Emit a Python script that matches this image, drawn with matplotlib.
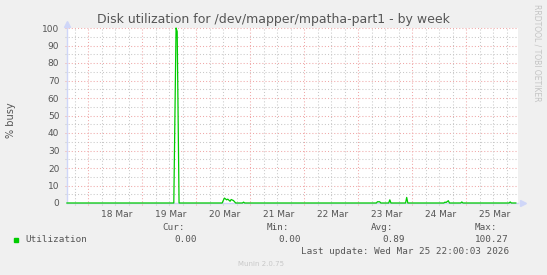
import matplotlib
matplotlib.use('Agg')
import matplotlib.pyplot as plt
import pandas as pd

# utilization samples (% busy), zero between the listed points
times = ['2026-03-17 14:30',
         '2026-03-19 14:00', '2026-03-19 15:00', '2026-03-19 15:30', '2026-03-19 16:20',
         '2026-03-20 11:30', '2026-03-20 12:00', '2026-03-20 12:30', '2026-03-20 13:30',
         '2026-03-20 14:00', '2026-03-20 15:00', '2026-03-20 15:30', '2026-03-20 16:30',
         '2026-03-20 17:30', '2026-03-20 20:30', '2026-03-20 21:00', '2026-03-20 21:30',
         '2026-03-23 08:00', '2026-03-23 08:30', '2026-03-23 09:30', '2026-03-23 10:00',
         '2026-03-23 13:30', '2026-03-23 14:00', '2026-03-23 14:30',
         '2026-03-23 21:00', '2026-03-23 21:30', '2026-03-23 22:00',
         '2026-03-24 14:00', '2026-03-24 14:30', '2026-03-24 15:00', '2026-03-24 16:00',
         '2026-03-24 16:30', '2026-03-24 21:30', '2026-03-24 22:00', '2026-03-24 22:30',
         '2026-03-25 19:00', '2026-03-25 19:30', '2026-03-25 20:00',
         '2026-03-25 22:00']
values = [0,
          0, 100, 98, 0,
          0, 1.5, 2.8, 1.8,
          2.2, 1.0, 2.0, 1.4,
          0, 0, 0.5, 0,
          0, 0.7, 0.7, 0,
          0, 1.8, 0,
          0, 3.2, 0,
          0, 0.5, 0.3, 1.3,
          0, 0, 0.6, 0,
          0, 0.6, 0,
          0]

day_labels = ['18 Mar', '19 Mar', '20 Mar', '21 Mar', '22 Mar', '23 Mar', '24 Mar', '25 Mar']
y_ticks = [0, 10, 20, 30, 40, 50, 60, 70, 80, 90, 100]

stat_heads = ['Cur:', 'Min:', 'Avg:', 'Max:']
stat_vals = ['0.00', '0.00', '0.89', '100.27']

BACK = '#F0F0F0'
FONT = '#555555'
AXIS = '#CFD6F8'
MGRID = '#F0A8A8'
GRID = '#C8C8C8'

t = pd.to_datetime(times)
x0 = pd.Timestamp('2026-03-17 14:32')
x1 = pd.Timestamp('2026-03-25 22:58')

fig = plt.figure(figsize=(5.47, 2.75), dpi=100, facecolor=BACK)
ax = fig.add_axes([67 / 547, 1 - 203 / 275, 451 / 547, 175 / 275])
ax.set_facecolor('white')
ax.set_xlim(x0, x1)
ax.set_ylim(0, 100)

# grid
for v in range(5, 100, 10):
    ax.axhline(v, xmin=-0.005, color=GRID, lw=0.75, ls=(0, (1, 2)), clip_on=False, zorder=1)
for v in range(10, 101, 10):
    ax.axhline(v, xmin=-0.005, color=MGRID, lw=0.75, ls=(0, (1, 2)), clip_on=False, zorder=1)
hours = pd.date_range('2026-03-17 18:00', '2026-03-25 18:00', freq='6h')
for h in hours:
    if h.hour == 0:
        ax.axvline(h, ymin=-0.012, color=MGRID, lw=0.75, ls=(0, (1, 2)), clip_on=False, zorder=1)
    else:
        ax.axvline(h, ymin=-0.012, color=GRID, lw=0.75, ls=(0, (1, 2)), clip_on=False, zorder=1)

for s in ['top', 'right']:
    ax.spines[s].set_visible(False)
for s in ['left', 'bottom']:
    ax.spines[s].set_color(AXIS)
    ax.spines[s].set_linewidth(1.0)
ax.plot([0], [1.025], marker='^', ms=5, color=AXIS, transform=ax.transAxes, clip_on=False)
ax.plot([1.01], [0], marker='>', ms=5, color=AXIS, transform=ax.transAxes, clip_on=False)

ax.plot(t, values, color='#00CC00', lw=0.9, zorder=3, clip_on=False)

noons = pd.date_range('2026-03-18 12:40', periods=len(day_labels), freq='D')
ax.set_xticks(noons)
ax.set_xticklabels(day_labels)
ax.set_yticks(y_ticks)
ax.tick_params(axis='both', length=0, labelsize=6.5, colors=FONT)
ax.tick_params(axis='y', pad=5.5)
ax.tick_params(axis='x', pad=5)

fig.text(273 / 547, 1 - 19 / 275, 'Disk utilization for /dev/mapper/mpatha-part1 - by week',
         ha='center', va='center', fontsize=9.0, color=FONT)
fig.text(11 / 547, 1 - 120 / 275, '% busy', rotation=90, ha='center', va='center',
         fontsize=7, color=FONT)
fig.text(537 / 547, 1 - 53 / 275, 'RRDTOOL / TOBI OETIKER', rotation=270, ha='center',
         va='center', fontsize=5.5, color='#C4C4C4')

# legend block
mono = 'DejaVu Sans Mono'
fig.patches.append(plt.Rectangle((13.5 / 547, 1 - 242 / 275), 4.5 / 547, 4.5 / 275,
                                 transform=fig.transFigure, color='#00CC00'))
fig.text(25 / 547, 1 - 240 / 275, 'Utilization', ha='left', va='center', family=mono,
         fontsize=6.7, color=FONT)
head_x = [185, 289, 393, 497]
val_x = [197, 301, 405, 509]
for hx, vx, h, v in zip(head_x, val_x, stat_heads, stat_vals):
    fig.text(hx / 547, 1 - 228 / 275, h, ha='right', va='center', family=mono,
             fontsize=6.7, color=FONT)
    fig.text(vx / 547, 1 - 240 / 275, v, ha='right', va='center', family=mono,
             fontsize=6.7, color=FONT)
fig.text(509 / 547, 1 - 252 / 275, 'Last update: Wed Mar 25 22:00:03 2026', ha='right',
         va='center', family=mono, fontsize=6.7, color=FONT)
fig.text(261 / 547, 1 - 264 / 275, 'Munin 2.0.75', ha='center', va='center',
         fontsize=5, color='#C8C8C8')

fig.savefig('out.png', dpi=100, facecolor=BACK)
